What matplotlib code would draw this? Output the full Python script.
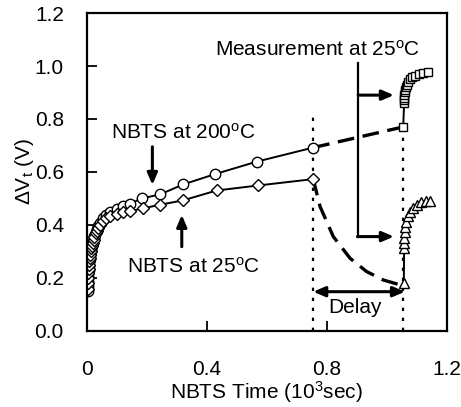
import matplotlib
matplotlib.use("Agg")
import matplotlib.pyplot as plt

plt.rcParams['font.family'] = ['Liberation Sans', 'DejaVu Sans']
plt.rcParams['mathtext.fontset'] = 'custom'
plt.rcParams['mathtext.rm'] = 'Liberation Sans'
plt.rcParams['mathtext.it'] = 'Liberation Sans:italic'

# NBTS at 200 C (circles)
t_200 = [0.003, 0.004, 0.005, 0.006, 0.007, 0.008, 0.009, 0.010, 0.012, 0.014,
         0.016, 0.018, 0.020, 0.023, 0.026, 0.030, 0.034, 0.039, 0.045, 0.055,
         0.066, 0.078, 0.100, 0.120, 0.145, 0.183, 0.244, 0.322, 0.428, 0.567, 0.755]
v_200 = [0.150, 0.170, 0.190, 0.210, 0.230, 0.245, 0.260, 0.272, 0.287, 0.300,
         0.313, 0.325, 0.335, 0.348, 0.360, 0.373, 0.385, 0.395, 0.408, 0.425,
         0.438, 0.448, 0.460, 0.470, 0.480, 0.500, 0.515, 0.553, 0.592, 0.639, 0.692]

# NBTS at 25 C (diamonds)
t_25 = [0.003, 0.004, 0.005, 0.006, 0.007, 0.008, 0.009, 0.010, 0.012, 0.014,
        0.016, 0.018, 0.020, 0.023, 0.026, 0.030, 0.034, 0.039, 0.045, 0.055,
        0.066, 0.078, 0.100, 0.120, 0.145, 0.189, 0.244, 0.322, 0.433, 0.572, 0.755]
v_25 = [0.160, 0.180, 0.200, 0.218, 0.235, 0.250, 0.262, 0.274, 0.288, 0.300,
        0.312, 0.322, 0.332, 0.345, 0.356, 0.368, 0.378, 0.388, 0.400, 0.415,
        0.425, 0.433, 0.440, 0.447, 0.452, 0.463, 0.476, 0.493, 0.530, 0.549, 0.573]

# Measurement at 25 C after 200 C stress (squares)
t_sq = [1.055, 1.058, 1.058, 1.058, 1.059, 1.060, 1.061, 1.063, 1.066, 1.070,
        1.076, 1.085, 1.095, 1.108, 1.122, 1.139]
v_sq = [0.770, 0.860, 0.870, 0.880, 0.890, 0.900, 0.910, 0.920, 0.930, 0.940,
        0.950, 0.958, 0.963, 0.968, 0.973, 0.978]

# Measurement at 25 C after 25 C stress (triangles)
t_tr = [1.057, 1.058, 1.058, 1.059, 1.060, 1.062, 1.065, 1.070, 1.077, 1.087,
        1.100, 1.115, 1.130, 1.144]
v_tr = [0.180, 0.312, 0.332, 0.352, 0.372, 0.392, 0.412, 0.432, 0.450, 0.465,
        0.477, 0.485, 0.490, 0.492]

# Recovery (dashed) during delay
t_rec = [0.755, 0.778, 0.822, 0.878, 0.933, 0.989, 1.044, 1.057]
v_rec = [0.573, 0.469, 0.356, 0.274, 0.224, 0.192, 0.174, 0.180]

x_ticks = [0, 0.4, 0.8, 1.2]
x_ticklabels = ['0', '0.4', '0.8', '1.2']
y_ticks = [0.0, 0.2, 0.4, 0.6, 0.8, 1.0, 1.2]
y_ticklabels = ['0.0', '0.2', '0.4', '0.6', '0.8', '1.0', '1.2']

fig = plt.figure(figsize=(4.61, 4.07), dpi=100)
ax = fig.add_axes([0.188, 0.187, 0.781, 0.781])

ms = 7.5
mkw = dict(color='black', mfc='white', mec='black', mew=1.0, lw=1.4)

# dotted markers of delay
ax.plot([t_200[-1], t_200[-1]], [0, 0.81], color='black', lw=1.6, ls=(0, (1.5, 3)))
ax.plot([t_sq[0], t_sq[0]], [0, v_sq[0]], color='black', lw=1.6, ls=(0, (1.5, 3)))

# dashed connections
ax.plot([t_200[-1], t_sq[0]], [v_200[-1], v_sq[0]], color='black', lw=2.4, dashes=(5, 2.6))
ax.plot(t_rec, v_rec, color='black', lw=2.4, dashes=(5, 2.6))

ax.plot(t_200, v_200, marker='o', ms=ms, **mkw)
ax.plot(t_25, v_25, marker='D', ms=ms * 0.8, **mkw)
ax.plot(t_sq, v_sq, marker='s', ms=ms * 0.85, **mkw)
ax.plot(t_tr, v_tr, marker='^', ms=ms * 0.95, **mkw)

fs = 15
ax.set_xlim(0, 1.2)
ax.set_ylim(0, 1.2)
ax.set_xticks(x_ticks)
ax.set_xticklabels(x_ticklabels)
ax.set_yticks(y_ticks)
ax.set_yticklabels(y_ticklabels)
ax.tick_params(direction='in', length=7, width=1.3, labelsize=fs)
ax.tick_params(axis='x', pad=21)
ax.tick_params(axis='y', pad=16.5)
for s in ax.spines.values():
    s.set_linewidth(1.6)

ax.set_xlabel(r'NBTS Time (10$^\mathregular{3}$sec)', fontsize=fs, labelpad=0)
ax.set_ylabel(r'$\Delta$V$_\mathregular{t}$ (V)', fontsize=fs, labelpad=-1)

ap = dict(arrowstyle='-|>,head_length=0.7,head_width=0.3', lw=2.2, color='black',
          shrinkA=0, shrinkB=0)

ax.text(0.322, 0.747, r'NBTS at 200$^\mathregular{o}$C', fontsize=fs, ha='center', va='center')
ax.annotate('', xy=(0.219, 0.551), xytext=(0.219, 0.695), arrowprops=ap)
ax.text(0.356, 0.243, r'NBTS at 25$^\mathregular{o}$C', fontsize=fs, ha='center', va='center')
ax.annotate('', xy=(0.317, 0.438), xytext=(0.317, 0.318), arrowprops=ap)

ax.text(0.769, 1.06, r'Measurement at 25$^\mathregular{o}$C', fontsize=fs, ha='center', va='center')
ax.plot([0.905, 0.905], [1.01, 0.356], color='black', lw=1.6)
ax.annotate('', xy=(1.024, 0.89), xytext=(0.905, 0.89), arrowprops=ap)
ax.annotate('', xy=(1.024, 0.356), xytext=(0.9025, 0.356), arrowprops=ap)

ap2 = dict(arrowstyle='<|-|>,head_length=0.7,head_width=0.3', lw=2.2, color='black',
           shrinkA=0, shrinkB=0)
ax.annotate('', xy=(1.061, 0.148), xytext=(0.755, 0.148), arrowprops=ap2)
ax.text(0.895, 0.087, 'Delay', fontsize=fs, ha='center', va='center')

fig.savefig('out.png', dpi=100)
